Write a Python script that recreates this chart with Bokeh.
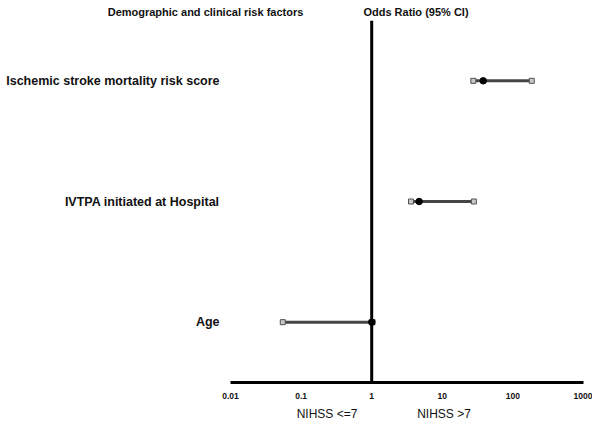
from bokeh.plotting import figure
from bokeh.models import Range1d, FactorRange, Span, FixedTicker, ColumnDataSource, LogAxis
from bokeh.core.properties import value
from bokeh.embed import file_html
from bokeh.resources import INLINE

factors = ["Ischemic stroke mortality risk score", "IVTPA initiated at Hospital", "Age"]
odds = [38.0, 4.7, 1.0]
ci_low = [27.5, 3.6, 0.055]
ci_high = [185.0, 28.0, 1.03]
tick_values = [0.01, 0.1, 1, 10, 100, 1000]
tick_labels = ["0.01", "0.1", "1", "10", "100", "1000"]
header_labels = ["Demographic and clinical risk factors", "Odds Ratio (95% CI)"]
header_x = [0.004425, 4.24]
side_labels = ["NIHSS <=7", "NIHSS >7"]
side_x = [0.2328, 10.57]
row_label_x = 0.00699

FONT = "Liberation Sans"

p = figure(width=592, height=425, x_axis_type="log",
           x_range=Range1d(10 ** -5.258, 10 ** 3.1275),
           y_range=FactorRange(factors=list(reversed(factors))),
           output_backend="svg", toolbar_location=None,
           min_border_left=0, min_border_right=0,
           min_border_top=20, min_border_bottom=43)
p.outline_line_color = None
p.xgrid.visible = False
p.ygrid.visible = False
p.yaxis.visible = False
p.background_fill_color = "white"
p.border_fill_color = "white"

src = ColumnDataSource(dict(cat=factors, odds=odds, lo=ci_low, hi=ci_high,
                            lx=[row_label_x] * len(factors)))

# row labels
p.text(x="lx", y="cat", text="cat", source=src, text_align="right",
       text_baseline="middle", text_font=value(FONT), text_font_style="bold",
       text_font_size="12.5px", text_color="#111111")

# confidence intervals
p.segment(x0="lo", x1="hi", y0="cat", y1="cat", source=src,
          line_width=3, line_color="#454545")
p.scatter(x="lo", y="cat", source=src, marker="square", size=5,
          fill_color="#c8c8c8", line_color="#505050", line_width=1)
p.scatter(x="hi", y="cat", source=src, marker="square", size=5,
          fill_color="#c8c8c8", line_color="#505050", line_width=1)

p.add_layout(Span(location=1, dimension="height", line_color="black", line_width=3))

p.scatter(x="odds", y="cat", source=src, marker="circle", size=6.5,
          fill_color="black", line_color="black")

def style_axis(ax, font_size, bold, standoff):
    ax.major_tick_line_color = None
    ax.minor_tick_line_color = None
    ax.major_tick_out = 0
    ax.major_tick_in = 0
    ax.minor_tick_out = 0
    ax.minor_tick_in = 0
    ax.major_label_standoff = standoff
    ax.major_label_text_font = FONT
    ax.major_label_text_font_style = "bold" if bold else "normal"
    ax.major_label_text_font_size = font_size
    ax.major_label_text_color = "#111111"

# main x axis
xa = p.xaxis[0]
xa.ticker = FixedTicker(ticks=tick_values, minor_ticks=[])
xa.major_label_overrides = {v: l for v, l in zip(tick_values, tick_labels)}
xa.bounds = (tick_values[0], tick_values[-1])
xa.axis_line_width = 3
xa.axis_line_color = "black"
style_axis(xa, "8.5px", True, 10)

# NIHSS labels axis
na = LogAxis(ticker=FixedTicker(ticks=side_x, minor_ticks=[]),
             major_label_overrides={v: l for v, l in zip(side_x, side_labels)},
             axis_line_color=None)
style_axis(na, "12px", False, 5)
p.add_layout(na, "below")

# header axis
ha = LogAxis(ticker=FixedTicker(ticks=header_x, minor_ticks=[]),
             major_label_overrides={v: l for v, l in zip(header_x, header_labels)},
             axis_line_color=None)
style_axis(ha, "11px", True, 3)
p.add_layout(ha, "above")

open("out.html", "w").write(file_html(p, INLINE))
